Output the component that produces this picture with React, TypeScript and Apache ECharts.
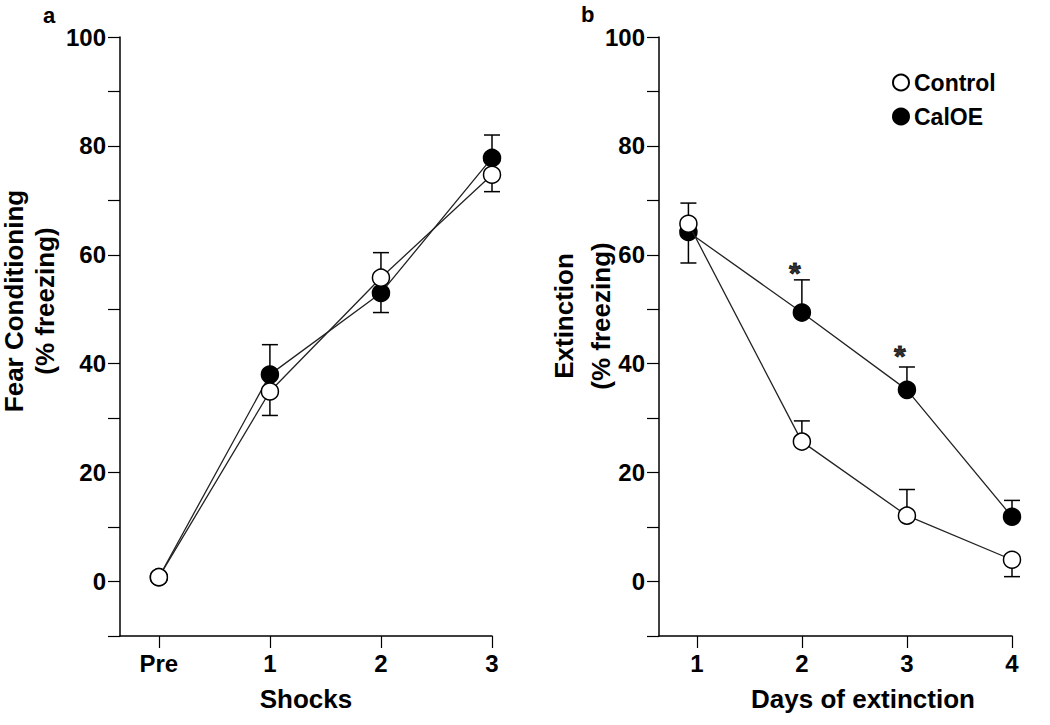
import React, { useEffect, useRef } from "react";
import * as echarts from "echarts";

const shockLabels = ["Pre", "1", "2", "3"];
const shockX = [0, 1, 2, 3];
const controlA = [0.8, 34.9, 55.8, 74.7];
const calA = [0.8, 38.0, 53.0, 77.8];
const controlAErrEnd: (number | null)[] = [null, 30.5, 60.4, 71.6];
const calAErrEnd: (number | null)[] = [null, 43.5, 49.4, 82.0];

const dayLabels = ["1", "2", "3", "4"];
const dayTicks = [1, 2, 3, 4];
const dayX = [0.92, 2, 3, 4];
const controlB = [65.7, 25.7, 12.1, 4.0];
const calB = [64.2, 49.4, 35.2, 11.9];
const controlBErrEnd: (number | null)[] = [69.5, 29.5, 16.9, 0.9];
const calBErrEnd: (number | null)[] = [58.5, 55.4, 39.4, 14.9];

const sigX = [2, 3];
const sigY = [56.8, 41.5];

const FONT = "Liberation Sans, Arial, sans-serif";
const BLACK = "#000";

function pairs(xs: number[], ys: number[]) {
  return xs.map((x, i) => [x, ys[i]]);
}
function errData(xs: number[], means: number[], ends: (number | null)[]) {
  const out: number[][] = [];
  xs.forEach((x, i) => {
    const e = ends[i];
    if (e !== null && e !== undefined) out.push([x, means[i], e]);
  });
  return out;
}

const errRender = (params: any, api: any) => {
  const x = api.value(0);
  const m = api.value(1);
  const e = api.value(2);
  const p0 = api.coord([x, m]);
  const p1 = api.coord([x, e]);
  const st = { stroke: BLACK, lineWidth: 1.5 };
  return {
    type: "group",
    children: [
      { type: "line", shape: { x1: p0[0], y1: p0[1], x2: p1[0], y2: p1[1] }, style: st },
      { type: "line", shape: { x1: p1[0] - 8, y1: p1[1], x2: p1[0] + 8, y2: p1[1] }, style: st },
    ],
  };
};

function yAxisCfg(gridIndex: number) {
  return {
    type: "value",
    gridIndex,
    min: -10,
    max: 100,
    interval: 10,
    axisLine: { show: true, onZero: false, lineStyle: { color: BLACK, width: 1.5 } },
    axisTick: { show: true, length: 12, lineStyle: { color: BLACK, width: 1.2 } },
    splitLine: { show: false },
    axisLabel: {
      formatter: (v: number) => (v % 20 === 0 ? String(v) : ""),
      margin: 14,
      fontSize: 24,
      fontWeight: "bold",
      fontFamily: FONT,
      color: BLACK,
    },
  };
}

function lineSeries(name: string, data: number[][], xi: number, open: boolean, z: number) {
  return {
    type: "line",
    name,
    xAxisIndex: xi,
    yAxisIndex: xi,
    data,
    symbol: "circle",
    symbolSize: 17,
    z,
    lineStyle: { color: "#222", width: 1.3 },
    itemStyle: open
      ? { color: "#fff", borderColor: BLACK, borderWidth: 1.5 }
      : { color: BLACK, borderColor: BLACK, borderWidth: 1.5 },
  };
}

export default function App() {
  const ref = useRef<HTMLDivElement>(null);
  useEffect(() => {
    document.body.style.margin = "0";
    const chart = echarts.init(ref.current!, null, { renderer: "svg" });
    const titleStyle = { fontSize: 26, fontWeight: "bold", fontFamily: FONT, fill: BLACK };
    chart.setOption({
      animation: false,
      backgroundColor: "#fff",
      grid: [
        { left: 120, right: 1050 - 492, top: 37, bottom: 725 - 636 },
        { left: 659, right: 1050 - 1012, top: 37, bottom: 725 - 636 },
      ],
      xAxis: [
        {
          type: "value",
          gridIndex: 0,
          min: -0.35,
          max: 3,
          axisLine: { show: true, onZero: false, lineStyle: { color: BLACK, width: 1.5 } },
          axisTick: { show: true, customValues: shockX, length: 12, lineStyle: { color: BLACK, width: 1.2 } },
          axisLabel: {
            customValues: shockX,
            formatter: (v: number) => shockLabels[shockX.indexOf(v)] ?? "",
            margin: 15,
            fontSize: 24,
            fontWeight: "bold",
            fontFamily: FONT,
            color: BLACK,
          },
          splitLine: { show: false },
        },
        {
          type: "value",
          gridIndex: 1,
          min: 0.64,
          max: 4,
          axisLine: { show: true, onZero: false, lineStyle: { color: BLACK, width: 1.5 } },
          axisTick: { show: true, customValues: dayTicks, length: 12, lineStyle: { color: BLACK, width: 1.2 } },
          axisLabel: {
            customValues: dayTicks,
            formatter: (v: number) => dayLabels[dayTicks.indexOf(v)] ?? "",
            margin: 15,
            fontSize: 24,
            fontWeight: "bold",
            fontFamily: FONT,
            color: BLACK,
          },
          splitLine: { show: false },
        },
      ],
      yAxis: [yAxisCfg(0), yAxisCfg(1)],
      legend: {
        data: ["Control", "CalOE"],
        orient: "vertical",
        left: 887,
        top: 66,
        itemWidth: 16,
        itemHeight: 16,
        itemGap: 11,
        icon: "circle",
        textStyle: { fontSize: 23, fontWeight: "bold", fontFamily: FONT, color: BLACK },
      },
      graphic: [
        { type: "text", left: 43, top: 4, style: { text: "a", fontSize: 22, fontWeight: "bold", fontFamily: FONT, fill: BLACK } },
        { type: "text", left: 581, top: 3, style: { text: "b", fontSize: 22, fontWeight: "bold", fontFamily: FONT, fill: BLACK } },
        { type: "text", x: 306, y: 699, style: { ...titleStyle, text: "Shocks", textAlign: "center", textVerticalAlign: "middle" } },
        { type: "text", x: 863, y: 699, style: { ...titleStyle, text: "Days of extinction", textAlign: "center", textVerticalAlign: "middle" } },
        { type: "text", x: 14, y: 301, rotation: Math.PI / 2, style: { ...titleStyle, text: "Fear Conditioning", textAlign: "center", textVerticalAlign: "middle" } },
        { type: "text", x: 45, y: 301, rotation: Math.PI / 2, style: { ...titleStyle, text: "(% freezing)", textAlign: "center", textVerticalAlign: "middle" } },
        { type: "text", x: 564, y: 316, rotation: Math.PI / 2, style: { ...titleStyle, text: "Extinction", textAlign: "center", textVerticalAlign: "middle" } },
        { type: "text", x: 601, y: 316, rotation: Math.PI / 2, style: { ...titleStyle, text: "(% freezing)", textAlign: "center", textVerticalAlign: "middle" } },
      ],
      series: [
        { type: "custom", xAxisIndex: 0, yAxisIndex: 0, renderItem: errRender, data: errData(shockX, calA, calAErrEnd), encode: { x: 0, y: [1, 2] }, z: 1 },
        { type: "custom", xAxisIndex: 0, yAxisIndex: 0, renderItem: errRender, data: errData(shockX, controlA, controlAErrEnd), encode: { x: 0, y: [1, 2] }, z: 1 },
        { type: "custom", xAxisIndex: 1, yAxisIndex: 1, renderItem: errRender, data: errData(dayX, calB, calBErrEnd), encode: { x: 0, y: [1, 2] }, z: 1 },
        { type: "custom", xAxisIndex: 1, yAxisIndex: 1, renderItem: errRender, data: errData(dayX, controlB, controlBErrEnd), encode: { x: 0, y: [1, 2] }, z: 1 },
        lineSeries("CalOE", pairs(shockX, calA), 0, false, 2),
        lineSeries("Control", pairs(shockX, controlA), 0, true, 3),
        lineSeries("CalOE", pairs(dayX, calB), 1, false, 2),
        lineSeries("Control", pairs(dayX, controlB), 1, true, 3),
        {
          type: "scatter",
          xAxisIndex: 1,
          yAxisIndex: 1,
          data: pairs(sigX, sigY),
          symbolSize: 1,
          itemStyle: { color: "rgba(0,0,0,0)" },
          label: {
            show: true,
            position: "inside",
            offset: [-7, 0],
            formatter: "*",
            fontSize: 30,
            fontWeight: "bold",
            fontFamily: FONT,
            color: BLACK,
            textBorderColor: BLACK,
            textBorderWidth: 1,
          },
          z: 4,
        },
      ],
    });
    return () => chart.dispose();
  }, []);
  return <div ref={ref} style={{ width: 1050, height: 725 }} />;
}
